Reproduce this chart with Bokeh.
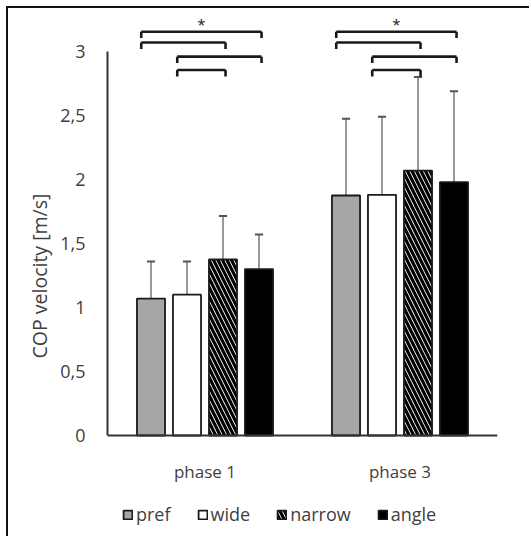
from bokeh.plotting import figure
from bokeh.models import FactorRange, FixedTicker, ColumnDataSource, Legend, LegendItem, Title
from bokeh.transform import dodge
from bokeh.core.properties import value
from bokeh.embed import file_html
from bokeh.resources import INLINE

phases = ["phase 1", "phase 3"]
conditions = ["pref", "wide", "narrow", "angle"]
pref = [1.07, 1.875]
wide = [1.10, 1.88]
narrow = [1.375, 2.07]
angle = [1.30, 1.98]
pref_sd = [0.29, 0.60]
wide_sd = [0.26, 0.61]
narrow_sd = [0.34, 0.73]
angle_sd = [0.27, 0.71]
y_ticks = [0, 0.5, 1, 1.5, 2, 2.5, 3]
y_tick_labels = ["0", "0,5", "1", "1,5", "2", "2,5", "3"]
# significance brackets (pairs of condition indices) per phase
bracket_pairs = [(0, 3), (0, 2), (1, 3), (1, 2)]
bracket_levels = [3.155, 3.07, 2.96, 2.855]
bracket_stars = ["*", "", "", ""]

FONT = "Open Sans"
TXT = "#404040"
DARK = "#1a1a1a"

p = figure(x_range=FactorRange(*phases), y_range=(-0.8047, 3.297), width=523, height=530,
           output_backend="svg", toolbar_location=None,
           min_border_left=99, min_border_right=34, min_border_top=5, min_border_bottom=0)
p.styles = {"margin-left": "6px", "margin-top": "6px",
            "border-left": "2px solid #111", "border-top": "2px solid #111"}
p.outline_line_color = None
p.xgrid.grid_line_color = None
p.ygrid.grid_line_color = None
p.background_fill_color = "white"

step = 0.1846
width = 0.144
offsets = [(i - 1.5) * step for i in range(4)]
values = [pref, wide, narrow, angle]
sds = [pref_sd, wide_sd, narrow_sd, angle_sd]
styles = [
    dict(fill_color="#a6a6a6"),
    dict(fill_color="white"),
    dict(fill_color="white", hatch_pattern="\\", hatch_color="black", hatch_scale=9, hatch_weight=3.2),
    dict(fill_color="black"),
]

renderers = []
for i, cond in enumerate(conditions):
    tops = [v + s for v, s in zip(values[i], sds[i])]
    src = ColumnDataSource(dict(phase=phases, val=values[i], top=tops))
    p.segment(x0=dodge("phase", offsets[i], range=p.x_range), y0="val",
              x1=dodge("phase", offsets[i], range=p.x_range), y1="top",
              source=src, line_color="#808080", line_width=1.6)
    p.segment(x0=dodge("phase", offsets[i] - 0.021, range=p.x_range), y0="top",
              x1=dodge("phase", offsets[i] + 0.021, range=p.x_range), y1="top",
              source=src, line_color="#555555", line_width=2)
    r = p.vbar(x=dodge("phase", offsets[i], range=p.x_range), top="val", bottom=0, width=width,
               source=src, line_color=DARK, line_width=1.8, **styles[i])
    renderers.append(r)

# brackets
for (a, b), lvl, star in zip(bracket_pairs, bracket_levels, bracket_stars):
    xa = offsets[a] - 0.05
    xb = offsets[b] + 0.013
    src = ColumnDataSource(dict(phase=phases, y=[lvl, lvl], yb=[lvl - 0.05, lvl - 0.05],
                                s=[star, star]))
    p.segment(x0=dodge("phase", xa, range=p.x_range), y0="y",
              x1=dodge("phase", xb, range=p.x_range), y1="y",
              source=src, line_color=DARK, line_width=2.6)
    p.segment(x0=dodge("phase", xa, range=p.x_range), y0="y",
              x1=dodge("phase", xa, range=p.x_range), y1="yb",
              source=src, line_color=DARK, line_width=2.6)
    p.segment(x0=dodge("phase", xb, range=p.x_range), y0="y",
              x1=dodge("phase", xb, range=p.x_range), y1="yb",
              source=src, line_color=DARK, line_width=2.6)
    if star:
        p.text(x=dodge("phase", (xa + xb) / 2, range=p.x_range), y="y", text="s", source=src,
               text_font=value(FONT), text_font_size="15px", text_color=DARK,
               text_align="center", text_baseline="bottom", y_offset=2)

# axes
p.yaxis.ticker = FixedTicker(ticks=y_ticks)
p.yaxis.major_label_overrides = {t: l for t, l in zip(y_ticks, y_tick_labels)}
p.yaxis.bounds = (0, 3)
p.xaxis.fixed_location = 0
for ax in (p.xaxis[0], p.yaxis[0]):
    ax.axis_line_color = "#333333"
    ax.axis_line_width = 2
    ax.major_tick_line_color = None
    ax.minor_tick_line_color = None
    ax.major_label_text_font = FONT
    ax.major_label_text_color = TXT
p.yaxis.major_label_text_font_size = "18px"
p.xaxis.major_label_text_font_size = "17px"
p.yaxis.major_label_standoff = 16
p.xaxis.major_label_standoff = 18

ylab = Title(text="COP velocity [m/s]", align="center", offset=-42,
             text_font=FONT, text_font_size="19.5px", text_color=TXT,
             text_font_style="normal")
p.add_layout(ylab, "left")

legend = Legend(items=[LegendItem(label=c, renderers=[r]) for c, r in zip(conditions, renderers)],
                orientation="horizontal", location=(15, 12),
                glyph_width=11, glyph_height=11, label_standoff=3, spacing=26,
                padding=0, margin=0, border_line_color=None, background_fill_alpha=0,
                label_text_font=FONT, label_text_font_size="18px", label_text_color=TXT,
                label_height=14)
p.add_layout(legend, "center")

open("out.html", "w").write(file_html(p, INLINE))
